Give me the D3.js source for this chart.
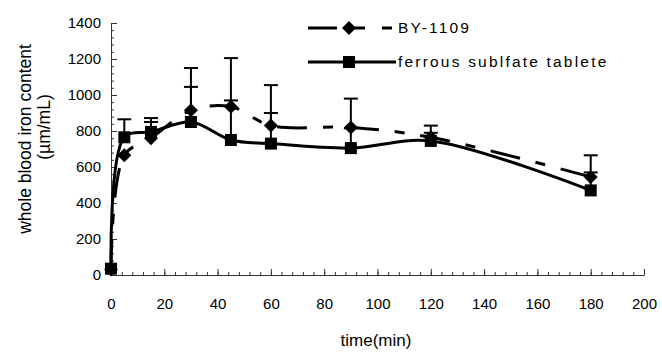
<!DOCTYPE html>
<html>
<head>
<meta charset="utf-8">
<script src="https://cdn.jsdelivr.net/npm/d3@7"></script>
<style>
  body { margin: 0; background: #fff; }
  svg text { font-family: "Liberation Sans", Arial, sans-serif; fill: #000; }
</style>
</head>
<body>
<div id="chart"></div>
<script>
// data
var times = [0, 5, 15, 30, 45, 60, 90, 120, 180];
var byValues = [30, 665, 760, 915, 935, 830, 820, 765, 545];
var byErrTop = [null, null, 850, 1150, 1205, 1055, 980, 830, 665];
var feValues = [35, 765, 795, 850, 750, 730, 705, 745, 470];
var feErrTop = [null, 865, 872, 1045, 970, 900, 815, 790, 570];
var xTicks = [0, 20, 40, 60, 80, 100, 120, 140, 160, 180, 200];
var yTicks = [0, 200, 400, 600, 800, 1000, 1200, 1400];

function draw() {
  var width = 662, height = 352;
  var plot = { left: 111, right: 644, top: 23, bottom: 275 };

  var svg = d3.select("#chart").append("svg")
    .attr("width", width)
    .attr("height", height);

  svg.append("rect").attr("width", width).attr("height", height).attr("fill", "#fff");

  var x = d3.scaleLinear().domain([0, 200]).range([plot.left, plot.right]);
  var y = d3.scaleLinear().domain([0, 1400]).range([plot.bottom, plot.top]);

  /* axes: minor ticks first, then major with labels */
  svg.append("g")
    .attr("transform", `translate(0, ${plot.bottom})`)
    .call(d3.axisBottom(x).tickValues(d3.range(0, 201, 4)).tickSize(-3).tickSizeOuter(0).tickFormat(""))
    .call(g => g.select(".domain").remove())
    .call(g => g.selectAll("line").attr("stroke", "#333"));

  svg.append("g")
    .attr("transform", `translate(0, ${plot.bottom})`)
    .call(d3.axisBottom(x).tickValues(xTicks).tickSize(-6).tickSizeOuter(0).tickPadding(23).tickFormat(d3.format("d")))
    .call(g => g.select(".domain").attr("stroke", "#333"))
    .call(g => g.selectAll("line").attr("stroke", "#333"))
    .call(g => g.selectAll("text").style("font-size", "15px").attr("fill", "#000"));

  svg.append("g")
    .attr("transform", `translate(${plot.left}, 0)`)
    .call(d3.axisLeft(y).tickValues(d3.range(0, 1401, 40)).tickSize(-3).tickSizeOuter(0).tickFormat(""))
    .call(g => g.select(".domain").remove())
    .call(g => g.selectAll("line").attr("stroke", "#333"));

  svg.append("g")
    .attr("transform", `translate(${plot.left}, 0)`)
    .call(d3.axisLeft(y).tickValues(yTicks).tickSize(-6).tickSizeOuter(0).tickPadding(10).tickFormat(d3.format("d")))
    .call(g => g.select(".domain").attr("stroke", "#333"))
    .call(g => g.selectAll("line").attr("stroke", "#333"))
    .call(g => g.selectAll("text").style("font-size", "15px").attr("fill", "#000"));

  // axis titles
  svg.append("text")
    .attr("x", 376)
    .attr("y", 346)
    .attr("text-anchor", "middle")
    .style("font-size", "17px")
    .text("time(min)");

  svg.append("text")
    .attr("transform", "translate(25, 139) rotate(-90)")
    .attr("text-anchor", "middle")
    .attr("dy", "0.35em")
    .style("font-size", "17.5px")
    .text("whole blood iron content");

  svg.append("text")
    .attr("transform", "translate(44, 127) rotate(-90)")
    .attr("text-anchor", "middle")
    .attr("dy", "0.35em")
    .style("font-size", "17.5px")
    .text("(µm/mL)");

  var series = [
    { name: "BY-1109", values: byValues, err: byErrTop, dash: "30,16,10,16", marker: "diamond" },
    { name: "ferrous sublfate tablete", values: feValues, err: feErrTop, dash: null, marker: "square" }
  ];

  var line = d3.line()
    .x(d => x(d.t))
    .y(d => y(d.v))
    .curve(d3.curveCatmullRom.alpha(0.5));

  var capW = 14;

  series.forEach(function(s) {
    var pts = times.map((t, i) => ({ t: t, v: s.values[i], e: s.err[i] }));

    // error bars
    var eb = svg.append("g").attr("stroke", "#000").attr("stroke-width", 2);
    pts.filter(d => d.e != null).forEach(function(d) {
      eb.append("line")
        .attr("x1", x(d.t)).attr("x2", x(d.t))
        .attr("y1", y(d.v)).attr("y2", y(d.e));
      eb.append("line")
        .attr("x1", x(d.t) - capW / 2).attr("x2", x(d.t) + capW / 2)
        .attr("y1", y(d.e)).attr("y2", y(d.e));
    });

    svg.append("path")
      .attr("d", line(pts))
      .attr("fill", "none")
      .attr("stroke", "#000")
      .attr("stroke-width", 3)
      .attr("stroke-dasharray", s.dash);
  });

  function drawMarker(g, type, cx, cy) {
    if (type === "square") {
      g.append("rect")
        .attr("x", cx - 6).attr("y", cy - 6)
        .attr("width", 12).attr("height", 12)
        .attr("fill", "#000");
    } else {
      g.append("path")
        .attr("d", `M${cx},${cy - 7}L${cx + 7},${cy}L${cx},${cy + 7}L${cx - 7},${cy}Z`)
        .attr("fill", "#000");
    }
  }

  series.forEach(function(s) {
    var g = svg.append("g");
    times.forEach(function(t, i) {
      drawMarker(g, s.marker, x(t), y(s.values[i]));
    });
  });

  // legend
  var legend = svg.append("g");
  series.forEach(function(s, i) {
    var ly = 28 + i * 34;
    legend.append("line")
      .attr("x1", 308).attr("x2", 396)
      .attr("y1", ly).attr("y2", ly)
      .attr("stroke", "#000")
      .attr("stroke-width", 3)
      .attr("stroke-dasharray", s.dash ? "29,16,12,17,10" : null);
    drawMarker(legend, s.marker, 349, ly);
    legend.append("text")
      .attr("x", 398)
      .attr("y", ly)
      .attr("dy", "0.35em")
      .style("font-size", "15.5px")
      .style("letter-spacing", "2.2px")
      .text(s.name);
  });
}

draw();
</script>
</body>
</html>
